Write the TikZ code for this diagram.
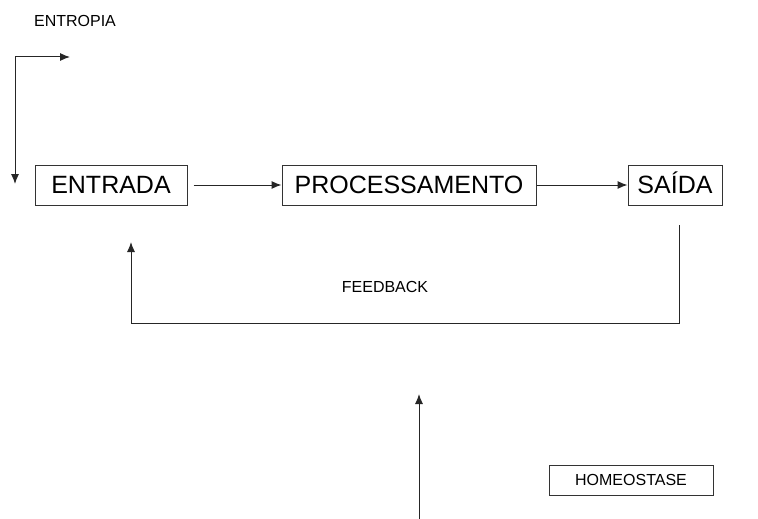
\documentclass[tikz,border=0pt]{standalone}
\usepackage{fontspec}
\setmainfont{Liberation Sans}
\usetikzlibrary{arrows.meta}

\tikzset{
  caixa/.style={draw=black!80, line width=1pt, rectangle, inner sep=0pt,
    minimum height=40pt, text height=18pt, text depth=1pt,
    font=\fontsize{25}{28}\selectfont},
  rotulo/.style={font=\fontsize{16}{18}\selectfont},
  seta/.style={line width=1pt, draw=black!85, -{Latex[length=10pt,width=8pt]}},
}

\begin{document}
\begin{tikzpicture}[x=1pt,y=-1pt]
    \useasboundingbox (0,0) rectangle (758,519);
    % texts and boxes
    \node[rotulo] (entropia) at (75,21) {ENTROPIA};
    \node[caixa, minimum width=152pt] (entrada) at (111,185) {ENTRADA};
    \node[caixa, minimum width=254pt] (proc) at (409,185) {PROCESSAMENTO};
    \node[caixa, minimum width=94pt] (saida) at (675,185) {SAÍDA};
    \node[rotulo] (feedback) at (385,287) {FEEDBACK};
    \node[draw=black!80, line width=1pt, inner sep=0pt, minimum width=164pt,
      minimum height=30pt, font=\fontsize{16}{18}\selectfont] (homeo) at (631,480) {HOMEOSTASE};
    % free ends of the open lines
    \coordinate (entTopo) at (70,57);
    \coordinate (entFim) at (15,184);
    \coordinate (fbIni) at (679,225);
    \coordinate (fbFim) at (131,242);
    \coordinate (baseIni) at (419,519);
    \coordinate (baseFim) at (419,394);
    % arrows
    \draw[seta, {Latex[length=10pt,width=8pt]}-{Latex[length=10pt,width=8pt]}] (entFim) |- (entTopo);
    \draw[seta] ([xshift=6pt]entrada.east) -- (proc.west);
    \draw[seta] (proc.east) -- (saida.west);
    \draw[seta] (fbIni) |- (fbFim |- 0,323) -- (fbFim);
    \draw[seta] (baseIni) -- (baseFim);
\end{tikzpicture}
\end{document}
